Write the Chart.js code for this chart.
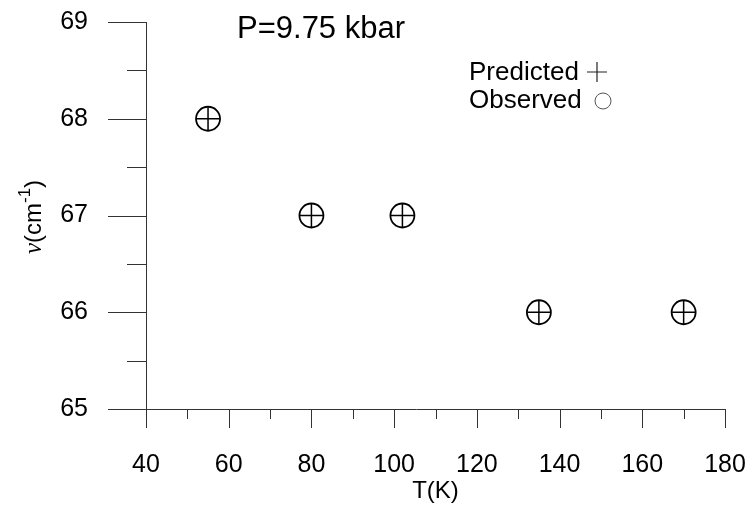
<!DOCTYPE html>
<html>
<head>
<meta charset="utf-8">
<script src="https://cdn.jsdelivr.net/npm/chart.js@4"></script>
<style>
    body { margin: 0; background: #fff; }
    #wrap { width: 749px; height: 506px; }
</style>
</head>
<body>
<div id="wrap"><canvas id="myChart"></canvas></div>
<script>
const temperatures = [55, 80, 102, 135, 170];
const predicted = [68, 67, 67, 66, 66];
const observed = [68, 67, 67, 66, 66];
const xTicks = [40, 60, 80, 100, 120, 140, 160, 180];
const yTicks = [65, 66, 67, 68, 69];

const axisColor = '#333';
const font = 'Liberation Sans, Arial, sans-serif';

function points(xs, ys) {
    return xs.map((x, i) => ({ x: x, y: ys[i] }));
}

// keep the chart area fixed: no extra room for overhanging labels
function noPadding(s) {
    s.paddingTop = 0;
    s.paddingBottom = 0;
    s.paddingLeft = 0;
    s.paddingRight = 0;
}

// axis lines, major/minor ticks and the free-floating texts
const decorations = {
    id: 'decorations',
    afterDraw(chart) {
        const c = chart.ctx;
        const xs = chart.scales.x;
        const ys = chart.scales.y;
        const left = xs.getPixelForValue(40);
        const right = xs.getPixelForValue(180);
        const bottom = ys.getPixelForValue(65);
        const top = ys.getPixelForValue(69);

        c.save();
        c.strokeStyle = axisColor;
        c.lineWidth = 1;
        c.beginPath();
        c.moveTo(Math.round(left) + 0.5, top);
        c.lineTo(Math.round(left) + 0.5, bottom);
        c.moveTo(left - 38, Math.round(bottom) + 0.5);
        c.lineTo(right, Math.round(bottom) + 0.5);
        // y ticks: long at integers, short at halves
        for (let v = 65; v <= 69; v += 0.5) {
            const py = Math.round(ys.getPixelForValue(v)) + 0.5;
            const len = Number.isInteger(v) ? 38 : 19;
            c.moveTo(left - len, py);
            c.lineTo(left, py);
        }
        // x ticks: long every 20, short in between
        for (let v = 40; v <= 180; v += 10) {
            const px = Math.round(xs.getPixelForValue(v)) + 0.5;
            const len = v % 20 === 0 ? 19 : 10;
            c.moveTo(px, bottom);
            c.lineTo(px, bottom + len);
        }
        c.stroke();

        c.fillStyle = '#000';
        c.textBaseline = 'alphabetic';
        c.textAlign = 'left';
        c.font = '31px ' + font;
        c.fillText('P=9.75 kbar', 237, 38);

        // legend, symbol after the label
        c.font = '26px ' + font;
        c.fillText(chart.data.datasets[0].label, 469, 80);
        c.fillText(chart.data.datasets[1].label, 469, 108);
        c.strokeStyle = '#222';
        c.lineWidth = 1.2;
        c.beginPath();
        c.moveTo(587, 72);
        c.lineTo(607, 72);
        c.moveTo(597, 62);
        c.lineTo(597, 82);
        c.stroke();
        c.strokeStyle = '#555';
        c.lineWidth = 1;
        c.beginPath();
        c.arc(603, 101, 8, 0, Math.PI * 2);
        c.stroke();

        // y axis title with superscript
        c.translate(33, 217);
        c.rotate(-Math.PI / 2);
        const parts = [
            ['ν', 'italic 25px Liberation Serif, serif', 0],
            ['(cm', '24px ' + font, 0],
            ['-1', '17px ' + font, -9],
            [')', '24px ' + font, 0]
        ];
        let w = 0;
        parts.forEach(p => { c.font = p[1]; w += c.measureText(p[0]).width; });
        let x = -w / 2;
        c.textBaseline = 'middle';
        parts.forEach(p => {
            c.font = p[1];
            c.fillText(p[0], x, p[2] + 1);
            x += c.measureText(p[0]).width;
        });
        c.restore();
    }
};

new Chart(document.getElementById('myChart'), {
    type: 'scatter',
    data: {
        datasets: [
            {
                label: 'Predicted',
                data: points(temperatures, predicted),
                pointStyle: 'cross',
                pointRadius: 11.5,
                borderWidth: 1.5,
                borderColor: '#000',
                backgroundColor: 'rgba(0,0,0,0)'
            },
            {
                label: 'Observed',
                data: points(temperatures, observed),
                pointStyle: 'circle',
                pointRadius: 12,
                borderWidth: 1.8,
                borderColor: '#000',
                backgroundColor: 'rgba(0,0,0,0)'
            }
        ]
    },
    plugins: [decorations],
    options: {
        responsive: true,
        maintainAspectRatio: false,
        animation: false,
        layout: { padding: { top: 22, right: 24, left: 0, bottom: 0 } },
        plugins: {
            legend: { display: false },
            tooltip: { enabled: false }
        },
        scales: {
            x: {
                type: 'linear',
                min: 40,
                max: 180,
                afterFit: s => { s.height = 97; noPadding(s); },
                afterBuildTicks: s => { s.ticks = xTicks.map(v => ({ value: v })); },
                grid: { display: false, drawTicks: false },
                border: { display: false },
                ticks: {
                    padding: 41,
                    color: '#000',
                    font: { family: font, size: 25 },
                    maxRotation: 0
                },
                title: {
                    display: true,
                    text: 'T(K)',
                    color: '#000',
                    font: { family: font, size: 24 },
                    padding: { top: 0, bottom: 0 }
                }
            },
            y: {
                type: 'linear',
                min: 65,
                max: 69,
                afterFit: s => { s.width = 146; noPadding(s); },
                afterBuildTicks: s => { s.ticks = yTicks.map(v => ({ value: v })); },
                grid: { display: false, drawTicks: false },
                border: { display: false },
                ticks: {
                    padding: 58,
                    color: '#000',
                    font: { family: font, size: 25 }
                }
            }
        }
    }
});
</script>
</body>
</html>
